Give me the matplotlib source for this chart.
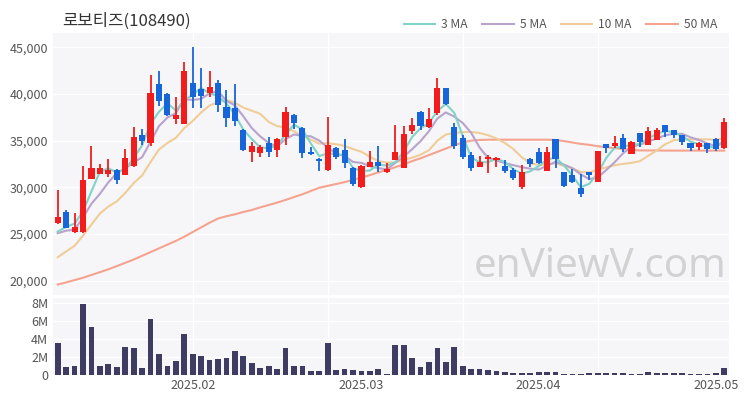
import matplotlib
matplotlib.use("Agg")
import matplotlib.pyplot as plt
import pandas as pd

plt.rcParams['font.family'] = ['Noto Sans CJK KR', 'DejaVu Sans']

# =====================
# DATA
# =====================
TITLE = "로보티즈(108490)"

opens = [26200, 27320, 25180, 25180, 30860, 31390, 31430, 31860, 31320, 32290,
         35610, 34710, 41040, 39960, 37360, 36750, 41210, 40500, 40070, 41140,
         38640, 38460, 36140, 33750, 33640, 34790, 34000, 35430, 37750, 36320,
         33750, 33000, 31860, 34180, 34000, 32110, 30000, 32210, 32750, 31610,
         32930, 32110, 36070, 38110, 36500, 37930, 40610, 36500, 35250, 33460,
         32140, 33000, 32930, 32290, 31860, 30070, 33000, 33820, 31790, 35140,
         31680, 31320, 29960, 31610, 30610, 34610, 34430, 35250, 33570, 35790,
         34540, 35070, 36680, 36140, 35610, 34710, 34290, 34710, 35140, 34180]
highs = [29700, 27570, 27220, 32290, 34430, 32500, 33040, 31930, 34070, 36500,
         36210, 42040, 42460, 40070, 39710, 43460, 45000, 42750, 42460, 41500,
         40430, 41040, 36210, 34890, 34540, 35360, 35250, 38640, 37860, 36430,
         34360, 33110, 37570, 34290, 35180, 32210, 32390, 33890, 34460, 32640,
         36680, 36570, 37390, 38210, 38460, 41750, 40680, 36860, 35610, 33820,
         33360, 33460, 33290, 32930, 32040, 32390, 33110, 34180, 34360, 35210,
         31680, 31960, 31430, 31680, 33890, 34610, 35500, 35680, 34950, 35790,
         36500, 36320, 36680, 36140, 35610, 34710, 34890, 34710, 35250, 37390]
lows = [26050, 25610, 25070, 25070, 30860, 31390, 31140, 30320, 31320, 32140,
        34540, 34430, 38750, 37640, 36750, 36750, 38460, 38460, 39710, 38110,
        36500, 36570, 33930, 32750, 33290, 33290, 33210, 34540, 36210, 33110,
        33460, 31790, 31750, 33000, 32110, 30180, 29960, 32140, 31610, 31500,
        32930, 32110, 35680, 36140, 36390, 37750, 38820, 34070, 33000, 31790,
        32140, 31500, 32210, 31500, 30790, 29790, 32210, 32500, 31750, 32110,
        30070, 30500, 29000, 30790, 30610, 33710, 34180, 33820, 33570, 34290,
        34540, 35070, 35430, 35320, 34540, 33890, 34000, 33640, 33930, 34070]
closes = [26850, 25680, 25790, 30790, 32110, 32110, 31860, 30790, 33180, 35360,
          34960, 40070, 39250, 37750, 37710, 42460, 39640, 39820, 40710, 38820,
          37390, 37110, 34000, 34430, 34360, 33820, 35140, 38110, 36860, 33640,
          33570, 32820, 34540, 33290, 32570, 30360, 32290, 32750, 32290, 31930,
          33820, 35680, 36680, 36610, 37320, 40610, 38890, 34430, 33210, 32040,
          32750, 33290, 33110, 31750, 30960, 31680, 32470, 32640, 33820, 33040,
          30180, 30540, 29290, 31320, 33890, 34180, 34710, 34110, 34890, 34890,
          36040, 36140, 35960, 35610, 34890, 34180, 34710, 34110, 34070, 37040]
volumes = [3.57, 0.86, 0.98, 7.9, 5.3, 0.98, 1.24, 0.9, 3.08, 2.97,
           0.79, 6.24, 2.26, 0.98, 1.47, 4.5, 2.26, 2.07, 1.65, 1.77,
           1.88, 2.7, 2.1, 1.28, 0.75, 0.94, 0.68, 2.93, 0.98, 0.98,
           0.45, 0.41, 3.5, 0.53, 0.64, 0.53, 0.41, 0.41, 0.6, 0.1,
           3.27, 3.27, 1.84, 0.9, 1.39, 3.0, 1.43, 3.05, 1.0, 0.68,
           0.6, 0.53, 0.38, 0.26, 0.19, 0.19, 0.19, 0.3, 0.26, 0.26,
           0.11, 0.11, 0.11, 0.15, 0.22, 0.15, 0.19, 0.15, 0.11, 0.11,
           0.34, 0.15, 0.15, 0.19, 0.15, 0.11, 0.08, 0.08, 0.15, 0.79]  # millions

# closes before the visible window (needed for the short MAs)
prior_closes = [19500, 19700, 19900, 20100, 20450, 24300, 25300, 24200, 24700]

# 50 MA (history not visible)
ma50 = [19570, 19800, 20050, 20300, 20600, 20900, 21200, 21550, 21900, 22250,
        22650, 23050, 23450, 23850, 24250, 24700, 25200, 25700, 26200, 26650,
        26900, 27100, 27350, 27560, 27850, 28100, 28350, 28640, 28950, 29250,
        29600, 29950, 30150, 30350, 30550, 30790, 31050, 31300, 31600, 31860,
        32150, 32450, 32800, 33110, 33450, 33800, 34150, 34500, 34800, 35000,
        35070, 35100, 35100, 35100, 35100, 35100, 35100, 35100, 35100, 35070,
        34950, 34800, 34650, 34550, 34400, 34300, 34200, 34100, 34000, 33950,
        33950, 33950, 33930, 33930, 33930, 33930, 33930, 33930, 33930, 33930]

tick_pos = [16, 36, 57, 78]
tick_labels = ["2025.02", "2025.03", "2025.04", "2025.05"]
grid_pos = [16, 32, 48, 64]

# =====================
# STYLE
# =====================
UP = '#f21c1c'
DOWN = '#1766d9'
VOL = '#3e3c62'
BG = '#f6f6f8'
TXT = '#555555'
MA_COLORS = {3: '#7fd3c9', 5: '#b7a3cc', 10: '#f0cd98', 50: '#f5a38f'}

n = len(closes)
xs = list(range(n))
s = pd.Series(prior_closes + closes, dtype=float)
mas = {}
for p in (3, 5, 10):
    mas[p] = s.rolling(p).mean().iloc[len(prior_closes):].to_numpy()
mas[50] = ma50

fig = plt.figure(figsize=(7.5, 4), dpi=100)
ax = fig.add_axes([53/750, 105/400, 676/750, 262/400])
axv = fig.add_axes([53/750, 25/400, 676/750, 77/400])

for a in (ax, axv):
    a.set_facecolor(BG)
    for sp in a.spines.values():
        sp.set_visible(False)
    a.set_axisbelow(True)
    a.set_xlim(-0.56, n - 0.44)
    a.grid(True, axis='y', color='white', lw=1.0)
    for g in grid_pos:
        a.axvline(g, color='white', lw=1.0, zorder=0.5)

# moving averages
for p in (50, 10, 5, 3):
    ax.plot(xs, mas[p], color=MA_COLORS[p], lw=1.5, zorder=2, label=f"{p} MA")

# candles
for i in xs:
    o, h, l, c = opens[i], highs[i], lows[i], closes[i]
    col = UP if c >= o else DOWN
    ax.vlines(i, l, h, color=col, lw=1.3, zorder=3)
    body = max(abs(c - o), 70)
    ax.bar(i, body, bottom=min(o, c), width=0.72, color=col, zorder=4)

ax.set_ylim(18450, 46540)
ax.set_yticks([20000, 25000, 30000, 35000, 40000, 45000])
ax.set_yticklabels([f"{v:,}" for v in [20000, 25000, 30000, 35000, 40000, 45000]])
ax.set_xticks([])
ax.tick_params(length=0, labelcolor=TXT, labelsize=9)

ax.text(0.996, 0.03, "enViewV.com", transform=ax.transAxes, ha='right', va='bottom',
        fontsize=29, color='#d2d2d2', family=['Noto Sans', 'DejaVu Sans'],
        fontweight='medium', zorder=1)

# volume
axv.bar(xs, volumes, width=0.68, color=VOL, zorder=3)
axv.set_ylim(-0.05, 8.6)
axv.set_yticks([0, 2, 4, 6, 8])
axv.set_yticklabels(["0", "2M", "4M", "6M", "8M"])
axv.set_xticks(tick_pos)
axv.set_xticklabels(tick_labels)
axv.tick_params(length=0, labelcolor=TXT, labelsize=9)
axv.tick_params(axis='x', pad=3)

fig.text(62/750, 1 - 21/400, TITLE, ha='left', va='center', fontsize=12, color='#333333')

handles, labels = ax.get_legend_handles_labels()
order = [3, 2, 1, 0]
fig.legend([handles[k] for k in order], [labels[k] for k in order],
           loc='center right', bbox_to_anchor=(728/750, 1 - 25/400), ncol=4,
           frameon=False, fontsize=8.7, handlelength=2.6, columnspacing=1.2,
           handletextpad=0.5, labelcolor=TXT)

fig.savefig("out.png", dpi=100, facecolor='white')
